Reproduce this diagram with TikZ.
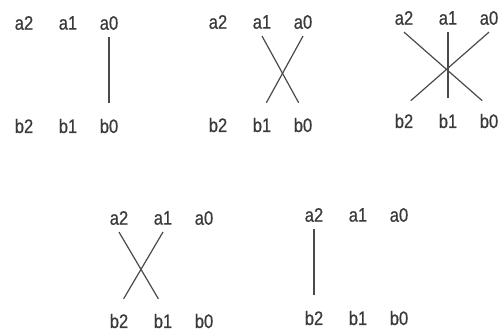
\documentclass[tikz,border=0pt]{standalone}
\usepackage{fontspec}
\setmainfont[FakeStretch=0.85,FakeBold=0.6]{Liberation Sans}
\usepackage{tikz}
\usetikzlibrary{positioning}
\definecolor{ink}{HTML}{3A3A3A}
\definecolor{wire}{HTML}{4A4A4A}

\begin{document}
\begin{tikzpicture}[x=1pt,y=-1pt,font=\fontsize{19.5}{21}\selectfont,
  lbl/.style={text=ink,inner xsep=1pt,inner ysep=7pt},
  wire/.style={draw=wire,line width=1.2pt,shorten >=9pt}]
  \useasboundingbox (0,0) rectangle (499,335);
  % five panels, a row on top and b row below
  \foreach \p/\x/\y in {1/24/23,2/218/22,3/404/18,4/119/218,5/314/215}{
    \node[lbl] (a2-\p) at (\x,\y) {a2};
    \node[lbl] (a1-\p) at (\x+44,\y) {a1};
    \node[lbl] (a0-\p) at (\x+85,\y) {a0};
    \node[lbl] (b2-\p) at (\x,\y+103) {b2};
    \node[lbl] (b1-\p) at (\x+44,\y+103) {b1};
    \node[lbl] (b0-\p) at (\x+85,\y+103) {b0};
  }
  \foreach \p/\a/\b in {1/a0/b0,2/a1/b0,2/a0/b1,3/a2/b0,3/a1/b1,3/a0/b2,
                        4/a2/b1,4/a1/b2,5/a2/b2}{\draw[wire] (\a-\p.south) -- (\b-\p.north);}
\end{tikzpicture}
\end{document}
